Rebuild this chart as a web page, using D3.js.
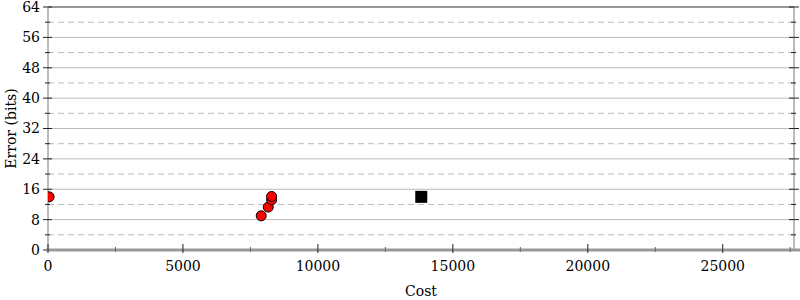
<!DOCTYPE html>
<html><head><meta charset="utf-8">
<script src="https://cdn.jsdelivr.net/npm/d3@7"></script>
<style>body{margin:0;background:#fff}svg{display:block}text{font-family:"DejaVu Serif",serif;fill:#000}</style>
</head><body>
<svg id="c" width="800" height="300"></svg>
<script>
const pointCosts = [40, 7900, 8160, 8285, 8285];
const pointErrors = [14, 9, 11.3, 13.2, 14.1];
const startCost = [13830];
const startError = [14];
const xTicks = [0, 5000, 10000, 15000, 20000, 25000];
const xMinor = [2500, 7500, 12500, 17500, 22500, 27500];
const yTicks = [0, 8, 16, 24, 32, 40, 48, 56, 64];
const yMinor = [4, 12, 20, 28, 36, 44, 52, 60];

const svg = d3.select("#c");
const L = 48, R = 794, T = 7, B = 250;
const x = d3.scaleLinear().domain([0, 27640]).range([L, R]);
const y = d3.scaleLinear().domain([0, 64]).range([B, T]);

// grid
svg.append("g").selectAll("line").data(yMinor).join("line")
  .attr("x1", L).attr("x2", R).attr("y1", d => y(d)).attr("y2", d => y(d))
  .attr("stroke", "#bbb").attr("stroke-width", 1).attr("stroke-dasharray", "6,4");
svg.append("g").selectAll("line").data(yTicks.filter(d => d > 0 && d < 64)).join("line")
  .attr("x1", L).attr("x2", R).attr("y1", d => y(d)).attr("y2", d => y(d))
  .attr("stroke", "#bbb").attr("stroke-width", 1);
// top border
svg.append("line").attr("x1", L).attr("x2", R).attr("y1", y(64)).attr("y2", y(64))
  .attr("stroke", "#999").attr("stroke-width", 2);
// left/right axis lines
svg.append("line").attr("x1", L).attr("x2", L).attr("y1", T).attr("y2", B)
  .attr("stroke", "#bbb").attr("stroke-width", 2);
svg.append("line").attr("x1", R).attr("x2", R).attr("y1", T).attr("y2", B)
  .attr("stroke", "#bbb").attr("stroke-width", 2);

// y ticks left
const ty = svg.append("g");
ty.selectAll("line.maj").data(yTicks).join("line").attr("class", "maj")
  .attr("x1", L - 5).attr("x2", L + 4).attr("y1", d => y(d)).attr("y2", d => y(d))
  .attr("stroke", "#222").attr("stroke-width", 1);
ty.selectAll("line.min").data(yMinor).join("line").attr("class", "min")
  .attr("x1", L - 3).attr("x2", L + 2).attr("y1", d => y(d)).attr("y2", d => y(d))
  .attr("stroke", "#222").attr("stroke-width", 1);
ty.selectAll("text").data(yTicks).join("text")
  .attr("x", L - 8).attr("y", d => y(d)).attr("dy", "0.35em")
  .attr("text-anchor", "end").attr("font-size", 14).text(d => d);
// y ticks right
svg.append("g").selectAll("line").data(yTicks).join("line")
  .attr("x1", R - 5).attr("x2", R + 5).attr("y1", d => y(d)).attr("y2", d => y(d))
  .attr("stroke", "#222").attr("stroke-width", 1);
svg.append("g").selectAll("line").data(yMinor).join("line")
  .attr("x1", R - 3).attr("x2", R + 2).attr("y1", d => y(d)).attr("y2", d => y(d))
  .attr("stroke", "#222").attr("stroke-width", 1);

// bottom axis
svg.append("line").attr("x1", L - 2).attr("x2", R + 6).attr("y1", B).attr("y2", B)
  .attr("stroke", "#999").attr("stroke-width", 3);
const tx = svg.append("g");
tx.selectAll("line.maj").data(xTicks).join("line").attr("class", "maj")
  .attr("x1", d => x(d)).attr("x2", d => x(d)).attr("y1", B - 6).attr("y2", B + 3)
  .attr("stroke", "#222").attr("stroke-width", 1);
tx.selectAll("line.min").data(xMinor).join("line").attr("class", "min")
  .attr("x1", d => x(d)).attr("x2", d => x(d)).attr("y1", B - 3).attr("y2", B + 2)
  .attr("stroke", "#666").attr("stroke-width", 1);
tx.selectAll("text").data(xTicks).join("text")
  .attr("x", d => x(d)).attr("y", 266).attr("dy", "0.35em")
  .attr("text-anchor", "middle").attr("font-size", 14).text(d => d);

// axis titles
svg.append("text").attr("x", (L + R) / 2).attr("y", 291).attr("dy", "0.35em")
  .attr("text-anchor", "middle").attr("font-size", 14).text("Cost");
svg.append("text").attr("transform", `translate(11,${(T + B) / 2}) rotate(-90)`)
  .attr("dy", "0.35em").attr("text-anchor", "middle").attr("font-size", 14).text("Error (bits)");

// clip
svg.append("clipPath").attr("id", "clip").append("rect")
  .attr("x", L).attr("y", T - 10).attr("width", R - L + 10).attr("height", B - T + 10);

const pts = pointCosts.map((c, i) => ({c, e: pointErrors[i]}));
svg.append("g").attr("clip-path", "url(#clip)").selectAll("circle").data(pts).join("circle")
  .attr("cx", d => x(d.c)).attr("cy", d => y(d.e)).attr("r", 5)
  .attr("fill", "#f00").attr("stroke", "#000").attr("stroke-width", 1);

svg.append("g").selectAll("rect").data(startCost.map((c, i) => ({c, e: startError[i]}))).join("rect")
  .attr("x", d => x(d.c) - 6).attr("y", d => y(d.e) - 6).attr("width", 12).attr("height", 12)
  .attr("fill", "#000");
</script>
</body></html>
